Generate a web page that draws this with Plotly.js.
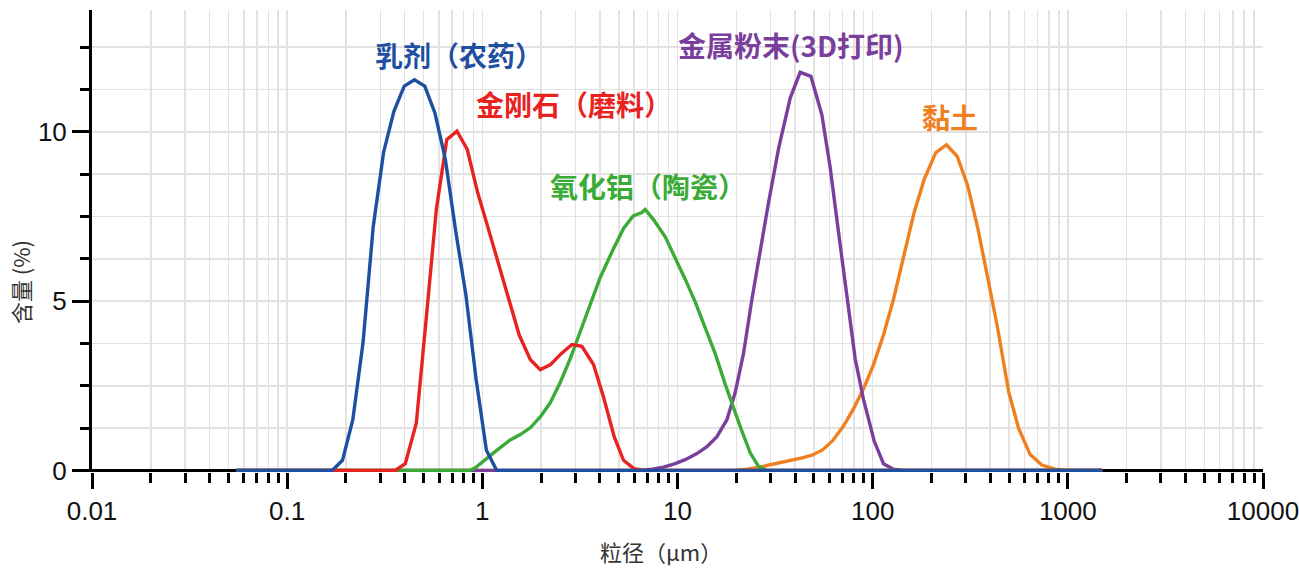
<!DOCTYPE html>
<html>
<head>
<meta charset="utf-8">
<script src="https://cdn.plot.ly/plotly-3.0.1.min.js"></script>
<style>
  html, body { margin: 0; padding: 0; background: #fff; }
  #chart { width: 1299px; height: 568px; }
</style>
</head>
<body>
<div id="chart"></div>
<script>
// ---- data (particle size in µm, content in %) ----
const seriesNames = ["乳剂（农药）", "金刚石（磨料）", "氧化铝（陶瓷）", "金属粉末(3D打印)", "黏土"];

const emulsionX = [0.055, 0.170, 0.192, 0.217, 0.245, 0.276, 0.312, 0.352, 0.398, 0.449, 0.507, 0.572, 0.646, 0.729, 0.823, 0.929, 1.049, 1.185, 1500];
const emulsionY = [0, 0, 0.3, 1.5, 3.8, 7.2, 9.4, 10.6, 11.35, 11.54, 11.35, 10.55, 9.2, 7.1, 5.2, 2.7, 0.6, 0, 0];

const diamondX = [0.055, 0.358, 0.403, 0.459, 0.516, 0.581, 0.657, 0.741, 0.837, 0.947, 1.072, 1.221, 1.373, 1.545, 1.760, 1.980, 2.228, 2.536, 2.877, 3.237, 3.713, 4.177, 4.739, 5.289, 6.001, 6.751, 1500];
const diamondY = [0, 0, 0.2, 1.4, 4.5, 7.7, 9.77, 10.02, 9.48, 8.2, 7.15, 6.05, 5.05, 4.0, 3.28, 2.98, 3.12, 3.45, 3.72, 3.67, 3.13, 2.17, 1.0, 0.3, 0.05, 0, 0];

const aluminaX = [0.055, 0.860, 0.920, 1.056, 1.211, 1.390, 1.564, 1.760, 1.980, 2.228, 2.507, 2.821, 3.173, 3.571, 4.018, 4.612, 5.289, 5.929, 6.570, 6.830, 7.534, 8.650, 9.732, 10.95, 12.32, 13.87, 15.60, 17.55, 19.36, 21.38, 23.58, 26.0, 28.71, 1500];
const aluminaY = [0, 0, 0.08, 0.37, 0.64, 0.9, 1.06, 1.26, 1.58, 2.0, 2.6, 3.3, 4.08, 4.88, 5.7, 6.45, 7.15, 7.52, 7.62, 7.71, 7.41, 6.9, 6.3, 5.65, 4.98, 4.22, 3.45, 2.55, 1.85, 1.16, 0.52, 0.12, 0, 0];

const metalX = [0.055, 6.44, 7.42, 8.48, 9.73, 10.95, 12.57, 14.15, 15.92, 17.91, 19.75, 21.78, 24.05, 26.53, 29.25, 32.92, 37.79, 42.52, 48.25, 54.93, 60.57, 66.80, 73.75, 81.36, 89.74, 101.8, 113.6, 127.8, 143.3, 1500];
const metalY = [0, 0, 0.04, 0.1, 0.2, 0.32, 0.5, 0.7, 1.0, 1.5, 2.3, 3.45, 5.05, 6.5, 7.9, 9.5, 11.0, 11.76, 11.64, 10.5, 8.95, 7.05, 5.1, 3.3, 2.1, 0.87, 0.2, 0.04, 0, 0];

const clayX = [0.055, 19.29, 22.23, 25.61, 29.85, 34.39, 38.69, 43.53, 48.82, 55.12, 62.39, 70.86, 79.74, 89.74, 100.9, 113.6, 127.8, 143.8, 163.2, 183.5, 210.2, 238.9, 271.0, 306.6, 345.8, 388.3, 436.9, 497.4, 558.5, 641.1, 736.0, 860.9, 991.7, 1500];
const clayY = [0, 0, 0.03, 0.08, 0.17, 0.24, 0.3, 0.37, 0.45, 0.6, 0.88, 1.31, 1.82, 2.41, 3.12, 4.0, 5.05, 6.28, 7.63, 8.59, 9.38, 9.62, 9.28, 8.42, 7.15, 5.7, 4.2, 2.33, 1.26, 0.47, 0.16, 0.04, 0, 0];

const xTickVals = [0.01, 0.1, 1, 10, 100, 1000, 10000];
const xTickText = ["0.01", "0.1", "1", "10", "100", "1000", "10000"];
const yTickVals = [0, 5, 10];
const yTickText = ["0", "5", "10"];
const xTitle = "粒径（μm）";
const yTitle = "含量 (%)";

// ---- styling ----
const colors = {
  emulsion: "#1f4fa0",
  diamond: "#e8231f",
  alumina: "#3aab37",
  metal: "#7a3f9c",
  clay: "#f0801f"
};
const LW = 3.4;

function line(x, y, color, name) {
  return { x: x, y: y, type: "scatter", mode: "lines", name: name,
           line: { color: color, width: LW }, hoverinfo: "x+y" };
}

// draw order: bottom -> top
const traces = [
  line(clayX, clayY, colors.clay, seriesNames[4]),
  line(metalX, metalY, colors.metal, seriesNames[3]),
  line(aluminaX, aluminaY, colors.alumina, seriesNames[2]),
  line(diamondX, diamondY, colors.diamond, seriesNames[1]),
  line(emulsionX, emulsionY, colors.emulsion, seriesNames[0])
];

// minor log ticks 2..9 in each decade
const minorVals = [];
for (let d = -2; d < 4; d++) {
  for (let k = 2; k <= 9; k++) minorVals.push(k * Math.pow(10, d));
}

const gridC = "#e2e2e2";
const labelFont = { family: "Liberation Sans, Arial, sans-serif", size: 26, color: "#111" };
const cjk = "Noto Sans CJK SC";

function ann(text, lx, y, color) {
  return { text: text, x: lx, y: y, xref: "x", yref: "y", showarrow: false,
           xanchor: "center", yanchor: "middle",
           font: { family: cjk, size: 28, color: color, weight: "bold" } };
}

const layout = {
  width: 1299, height: 568,
  margin: { l: 92, r: 36, t: 10, b: 96 },
  paper_bgcolor: "#fff", plot_bgcolor: "#fff",
  showlegend: false,
  xaxis: {
    type: "log", range: [-2, 4],
    tickmode: "array", tickvals: xTickVals, ticktext: xTickText,
    ticks: "outside", ticklen: 16, tickwidth: 3, tickcolor: "#000",
    tickfont: labelFont, ticklabeloverflow: "allow",
    showline: false, zeroline: false,
    showgrid: true, gridcolor: gridC, gridwidth: 1.5,
    minor: { tickmode: "array", tickvals: minorVals, ticks: "outside", ticklen: 10, tickwidth: 3, tickcolor: "#000",
             showgrid: true, gridcolor: gridC, gridwidth: 1.5 }
  },
  yaxis: {
    range: [-0.045, 13.6],
    tickmode: "array", tickvals: yTickVals, ticktext: yTickText,
    ticks: "outside", ticklen: 17, tickwidth: 3, tickcolor: "#000",
    tickfont: labelFont,
    showline: true, linewidth: 3, linecolor: "#000",
    zeroline: true, zerolinecolor: "#000", zerolinewidth: 3,
    showgrid: true, gridcolor: gridC, gridwidth: 1.5,
    minor: { dtick: 1.25, tick0: 0, ticks: "outside", ticklen: 9, tickwidth: 3, tickcolor: "#000",
             showgrid: true, gridcolor: gridC, gridwidth: 1.5 }
  },
  annotations: [
    ann(seriesNames[0], -0.118, 12.28, colors.emulsion),
    ann(seriesNames[1], 0.471, 10.81, colors.diamond),
    ann(seriesNames[2], 0.850, 8.41, colors.alumina),
    ann(seriesNames[3], 1.580, 12.58, colors.metal),
    ann(seriesNames[4], 2.397, 10.45, colors.clay),
    { text: xTitle, xref: "paper", yref: "paper", x: 0.486, y: -0.171, showarrow: false,
      xanchor: "center", yanchor: "middle", font: { family: cjk, size: 22, color: "#333" } },
    { text: yTitle, xref: "paper", yref: "paper", x: -0.0615, y: 0.411, showarrow: false, textangle: -90,
      xanchor: "center", yanchor: "middle", font: { family: cjk, size: 22, color: "#333" } }
  ]
};

Plotly.newPlot("chart", traces, layout, { displayModeBar: false, staticPlot: true });
</script>
</body>
</html>
